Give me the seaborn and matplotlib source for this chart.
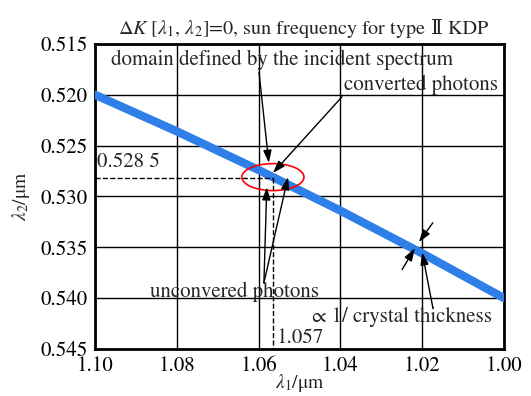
import matplotlib
matplotlib.use("Agg")
import matplotlib.pyplot as plt
import seaborn as sns
import pandas as pd
from matplotlib.patches import Ellipse

# data
lambda1 = [1.10, 1.09, 1.08, 1.07, 1.06, 1.05, 1.04, 1.03, 1.02, 1.01, 1.00]
lambda2 = [0.5200, 0.5218, 0.5236, 0.5255, 0.5274, 0.5294, 0.5314, 0.5335, 0.5356, 0.5378, 0.5400]
x_ticks = [1.10, 1.08, 1.06, 1.04, 1.02, 1.00]
y_ticks = [0.515, 0.520, 0.525, 0.530, 0.535, 0.540, 0.545]
mark_x = 1.0565
mark_y = 0.5282

sns.set_style("whitegrid")
plt.rcParams['font.family'] = ['STIXGeneral', 'DejaVu Serif', 'Noto Sans CJK SC']
plt.rcParams['mathtext.fontset'] = 'stix'

df = pd.DataFrame({"l1": lambda1, "l2": lambda2})

fig = plt.figure(figsize=(5.31, 3.96), dpi=100)
ax = fig.add_axes([0.179, 0.119, 0.770, 0.770])

sns.lineplot(data=df, x="l1", y="l2", ax=ax, color="#2F7FE9", lw=6, zorder=3)

ax.set_xlim(1.10, 1.00)
ax.set_ylim(0.545, 0.515)
ax.set_xticks(x_ticks)
ax.set_xticklabels([f"{v:.2f}" for v in x_ticks])
ax.set_yticks(y_ticks)
ax.set_yticklabels([f"{v:.3f}" for v in y_ticks])
ax.tick_params(length=0, labelsize=15, colors='black', pad=5.5)
ax.grid(True, color='black', lw=1.0)
for s in ax.spines.values():
    s.set_color('black')
    s.set_linewidth(2)
    s.set_visible(True)

ax.set_xlabel(r'$\lambda_1$/μm', fontsize=14, labelpad=-3)
ax.set_ylabel(r'$\lambda_2$/μm', fontsize=14, labelpad=6)

# title in two parts (math part + plain part with Roman numeral)
title_y = 1.033
t1 = ax.text(0.5, title_y, r'Δ$K$ [$\lambda_1$, $\lambda_2$]=0, sun frequency for type',
             transform=ax.transAxes, fontsize=14.5, ha='left', va='baseline')
t2 = ax.text(0.5, title_y, ' Ⅱ KDP', transform=ax.transAxes, fontsize=14.5,
             ha='left', va='baseline')
fig.canvas.draw()
r = fig.canvas.get_renderer()
w1 = t1.get_window_extent(r).width
w2 = t2.get_window_extent(r).width
axbb = ax.get_window_extent(r)
cx = axbb.x0 + axbb.width / 2 + 4
start = cx - (w1 + w2) / 2
t1.set_x((start - axbb.x0) / axbb.width)
t2.set_x((start + w1 - axbb.x0) / axbb.width)

# dashed guide lines
ax.plot([1.10, mark_x], [mark_y, mark_y], ls='--', color='black', lw=1, zorder=4)
ax.plot([mark_x, mark_x], [mark_y, 0.545], ls='--', color='black', lw=1, zorder=4)
ax.text(1.0995, 0.5266, "0.528 5", fontsize=15, ha='left', va='center')
ax.text(1.0555, 0.5439, "1.057", fontsize=15, ha='left', va='center')

ax.add_patch(Ellipse((1.0565, 0.5281), 0.0152, 0.00265, fill=False, edgecolor='red', lw=1.2, zorder=5))

# texts
ax.text(1.0543, 0.5166, "domain defined by the incident spectrum", fontsize=15, ha='center', va='center')
ax.text(1.0015, 0.5190, "converted photons", fontsize=15, ha='right', va='center')
ax.text(1.066, 0.5394, "unconvered photons", fontsize=15, ha='center', va='center')
ax.text(1.0249, 0.5419, "∝ 1/ crystal thickness", fontsize=15, ha='center', va='center')

arrows = [
    ((1.0599, 0.5178), (1.0575, 0.5267)),
    ((1.0396, 0.5202), (1.0565, 0.5277)),
    ((1.0587, 0.5385), (1.0580, 0.5291)),
    ((1.0587, 0.5385), (1.0528, 0.5281)),
    ((1.0174, 0.5326), (1.0208, 0.5345)),
    ((1.0249, 0.5372), (1.0218, 0.5351)),
    ((1.0174, 0.5409), (1.0200, 0.5355)),
]
for start_pt, tip in arrows:
    ax.annotate("", xy=tip, xytext=start_pt,
                arrowprops=dict(arrowstyle='-|>,head_length=0.75,head_width=0.25',
                                color='black', lw=1.0, shrinkA=0, shrinkB=0),
                zorder=6)

fig.savefig("out.png", dpi=100)
